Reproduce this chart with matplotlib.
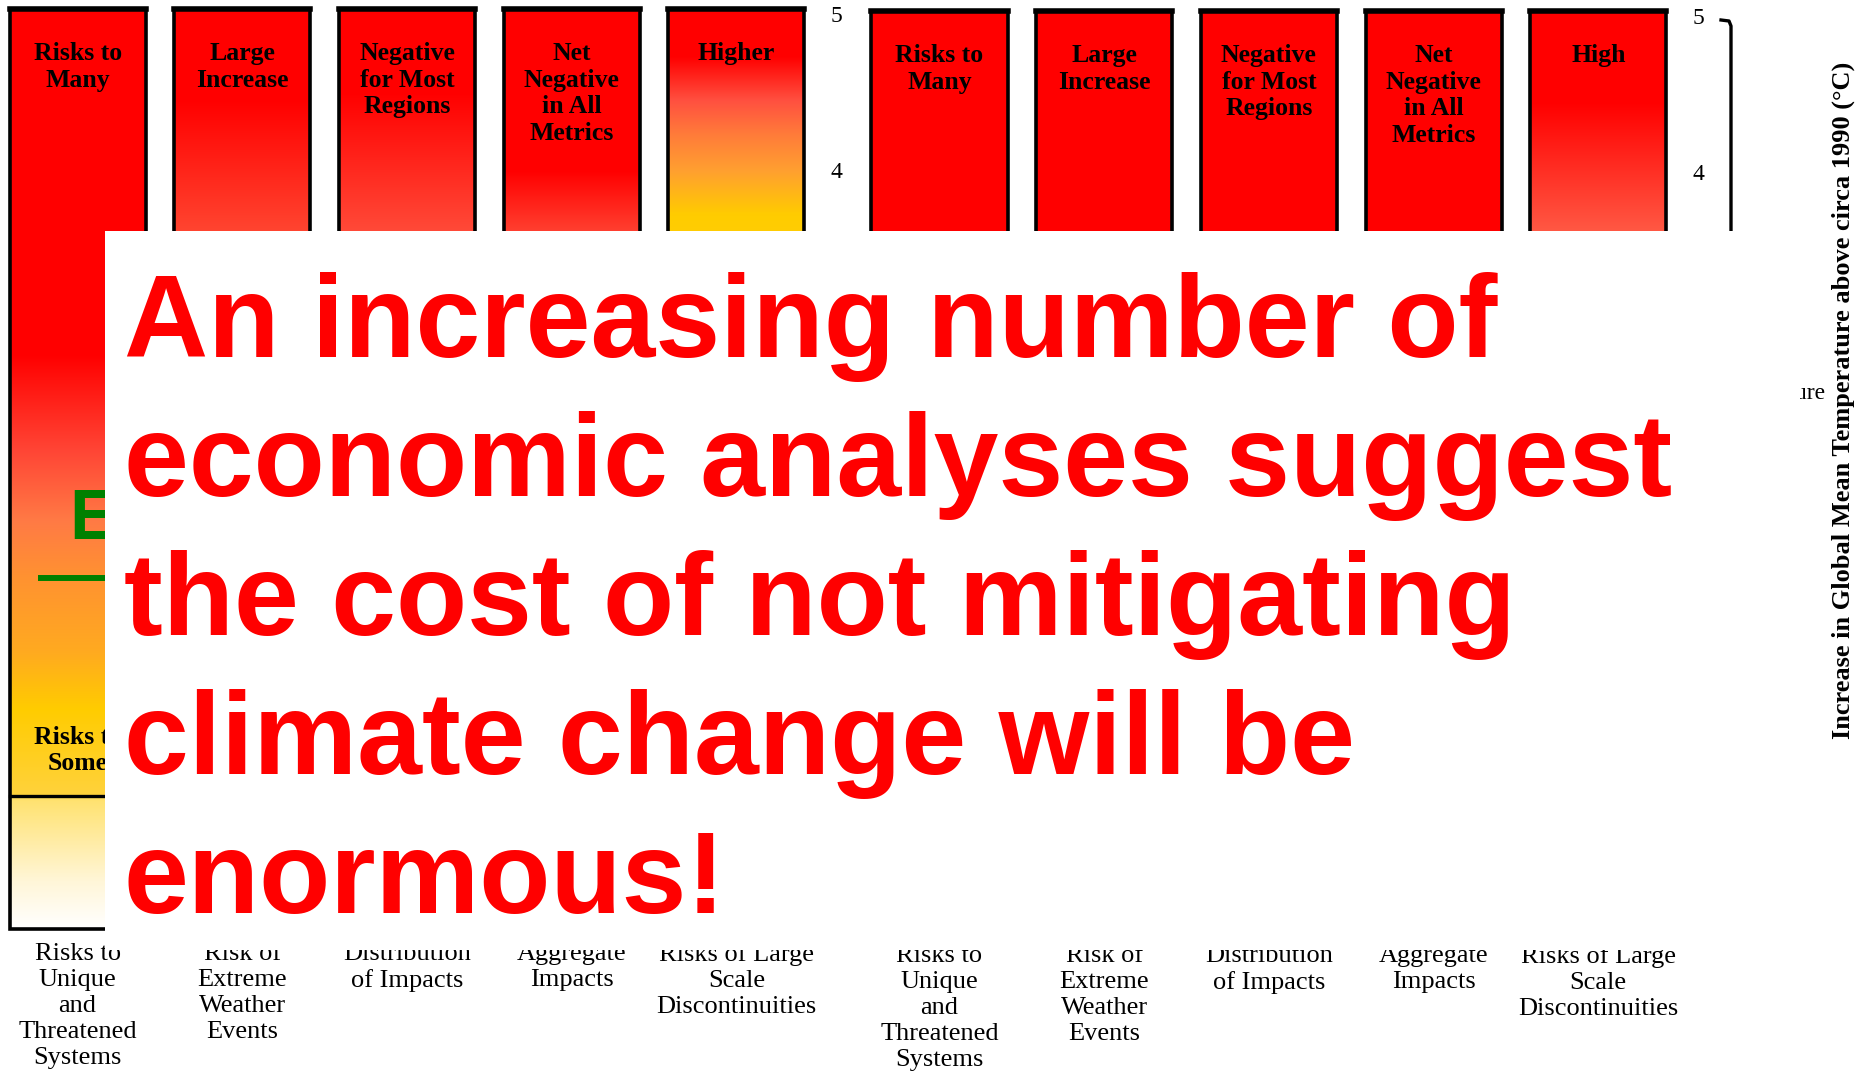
import numpy as np
import matplotlib
matplotlib.use("Agg")
import matplotlib.pyplot as plt
from matplotlib.colors import to_rgb
from matplotlib.patches import Rectangle
from matplotlib.lines import Line2D

# categories (same five reasons for concern in both panels)
categories = ["Risks to\nUnique\nand\nThreatened\nSystems",
              "Risk of\nExtreme\nWeather\nEvents",
              "Distribution\nof Impacts",
              "Aggregate\nImpacts",
              "Risks of Large\nScale\nDiscontinuities"]
top_left = ["Risks to\nMany", "Large\nIncrease", "Negative\nfor Most\nRegions",
            "Net\nNegative\nin All\nMetrics", "Higher"]
top_right = ["Risks to\nMany", "Large\nIncrease", "Negative\nfor Most\nRegions",
             "Net\nNegative\nin All\nMetrics", "High"]

t_bottom, t_top = -0.85, 5.03   # temperature span of each ember (degC)
yticks = [4, 5]

# colour stops (temperature, colour) for each ember
low_part = [(-0.85, "#FFFFFF"), (-0.03, "#FFE680"), (0.0, "#FFD23C"),
            (1.0, "#FFCC00"), (2.0, "#FF9330")]
stops_left = [
    [(-0.85, "#FFFFFF"), (-0.55, "#FFF6D8"), (-0.03, "#FFE270"), (0.0, "#FFD23C"),
     (0.55, "#FFCC00"), (0.92, "#FFAA20"), (1.38, "#FF9330"), (1.76, "#FF7A45"),
     (2.21, "#FF4535"), (2.82, "#FF0000"), (5.03, "#FF0000")],
    low_part + [(3.0, "#FF6A40"), (3.61, "#FF4530"), (4.45, "#FF0000"), (5.03, "#FF0000")],
    low_part + [(3.0, "#FF6A40"), (3.61, "#FF4A38"), (4.5, "#FF0000"), (5.03, "#FF0000")],
    low_part + [(3.0, "#FF6A40"), (3.61, "#FF4030"), (4.0, "#FF0000"), (5.03, "#FF0000")],
    [(-0.85, "#FFFFFF"), (-0.03, "#FFE680"), (0.0, "#FFE060"), (3.72, "#FFCC00"),
     (4.0, "#FFA030"), (4.24, "#FF7A3A"), (4.45, "#FF5040"), (4.73, "#FF0000"),
     (5.03, "#FF0000")],
]
stops_right = [
    [(-0.85, "#FFCC00"), (1.5, "#FF0000"), (5.03, "#FF0000")],
    [(-0.85, "#FFCC00"), (1.5, "#FF0000"), (5.03, "#FF0000")],
    [(-0.85, "#FFCC00"), (1.5, "#FF0000"), (5.03, "#FF0000")],
    [(-0.85, "#FFCC00"), (1.5, "#FF0000"), (5.03, "#FF0000")],
    [(-0.85, "#FFCC00"), (2.5, "#FF8040"), (3.61, "#FF5A45"), (4.45, "#FF0000"),
     (5.03, "#FF0000")],
]

headline = ["An increasing number of", "economic analyses suggest",
            "the cost of not mitigating", "climate change will be", "enormous!"]

serif = ["Liberation Serif", "DejaVu Serif"]
W, H = 1857, 1073
fig = plt.figure(figsize=(W / 100, H / 100), dpi=100)


def ember_panel(ax, stops, tops):
    grid = np.linspace(t_bottom, t_top, 500)
    bw = 0.826
    for i, st in enumerate(stops):
        temps = [s[0] for s in st]
        rgb = np.array([to_rgb(s[1]) for s in st])
        img = np.stack([np.interp(grid, temps, rgb[:, k]) for k in range(3)], axis=-1)
        img = img[:, None, :]
        ax.imshow(img, extent=[i - bw / 2, i + bw / 2, t_bottom, t_top],
                  origin="lower", aspect="auto", interpolation="bilinear", zorder=1)
        ax.add_patch(Rectangle((i - bw / 2, t_bottom), bw, t_top - t_bottom,
                               fill=False, ec="black", lw=2.6, zorder=3, clip_on=False))
        ax.plot([i - bw / 2, i + bw / 2], [t_top, t_top], color="black", lw=4,
                zorder=3, clip_on=False)
        ax.text(i, 4.82, tops[i], ha="center", va="top", fontsize=18.5,
                fontweight="bold", family=serif, linespacing=1.2, zorder=4)
    ax.set_xlim(-0.47, 4.47)
    ax.set_ylim(t_bottom, 5.09)
    ax.set_xticks(range(len(categories)))
    ax.set_xticklabels(categories, family=serif, fontsize=19, linespacing=1.23)
    ax.tick_params(axis="x", length=0, pad=10)
    ax.yaxis.tick_right()
    ax.set_yticks(yticks)
    ax.set_yticklabels([str(v) for v in yticks], family=serif, fontsize=17)
    ax.tick_params(axis="y", length=0, pad=12)
    for s in ax.spines.values():
        s.set_visible(False)


axw = 813.6 / W
ax1 = fig.add_axes([0.2 / W, 1 - 929 / H, axw, 929 / H])
ember_panel(ax1, stops_left, top_left)
# present-day line and lower label in first ember
ax1.plot([-0.413, 0.413], [0, 0], color="black", lw=2.4, zorder=3)
ax1.text(0, 0.29, "Risks to\nSome", ha="center", va="center", fontsize=18.5,
         fontweight="bold", family=serif, linespacing=1.15, zorder=4)

ax2 = fig.add_axes([862.1 / W, 1 - 931 / H, axw, 929 / H])
ember_panel(ax2, stops_right, top_right)

# bracket at the right of the second panel
fig.add_artist(Line2D([1721 / W, 1729 / W, 1731 / W, 1731 / W],
                      [1 - 20 / H, 1 - 21 / H, 1 - 26 / H, 1 - 400 / H],
                      color="black", lw=2.4, zorder=1))

fig.text(1843 / W, 1 - 400 / H,
         "Increase in Global Mean Temperature above circa 1990 (\u00b0C)",
         rotation=90, ha="center", va="center", fontsize=19, fontweight="bold",
         family=serif)
fig.text(1826 / W, 1 - 393 / H, "Temperature", ha="right", va="center",
         fontsize=17, family=serif, zorder=1)

# green fragments behind the box
fig.text(69 / W, 1 - 539 / H, "E", color="#008000", fontsize=51,
         fontweight="bold", family="Liberation Sans", va="baseline", zorder=1)
fig.add_artist(Line2D([41 / W, 200 / W], [1 - 578 / H, 1 - 578 / H],
                      color="#008000", lw=4.3, zorder=1))

# white overlay box
fig.add_artist(Rectangle((105 / W, 1 - 950 / H), (1800 - 105) / W, (950 - 231) / H,
                         transform=fig.transFigure, fc="white", ec="none", zorder=5))

for i, line in enumerate(headline):
    fig.text(124 / W, 1 - (357 + 139 * i) / H, line, color="#FF0000", fontsize=84,
             fontweight="bold", family="Liberation Sans", va="baseline", zorder=6)

fig.savefig("out.png", dpi=100, facecolor="white")
